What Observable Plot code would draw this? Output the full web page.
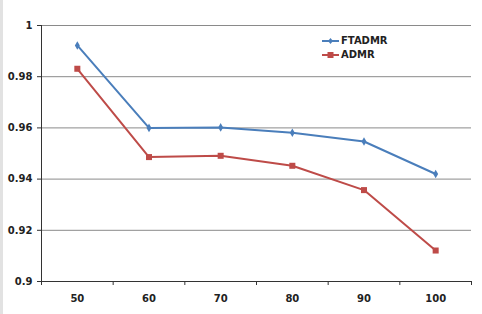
<!DOCTYPE html>
<html>
<head>
<meta charset="utf-8">
<script src="https://cdn.jsdelivr.net/npm/d3@7"></script>
<script src="https://cdn.jsdelivr.net/npm/@observablehq/plot@0.6"></script>
<style>
  html, body { margin: 0; padding: 0; background: #fff; }
  #wrap { position: relative; width: 482px; height: 314px; overflow: hidden; }
  #wrap::before { content: ""; position: absolute; left: 0; top: 0; bottom: 0; width: 3px; background: #e2e2e2; }
  .legend { position: absolute; left: 322px; top: 34px; font: bold 10px "DejaVu Sans", sans-serif; color: #222; line-height: 14px; }
  .legend div { display: flex; align-items: center; height: 14px; }
  .legend svg { margin-right: 2px; }
</style>
</head>
<body>
<div id="wrap"></div>
<script>
// x categories (sample size) and the two accuracy series
const categories = [50, 60, 70, 80, 90, 100];
const ftadmr = [0.9922, 0.9600, 0.9602, 0.9581, 0.9547, 0.9420];
const admr   = [0.9831, 0.9486, 0.9491, 0.9452, 0.9357, 0.9121];
const yTicks = [0.9, 0.92, 0.94, 0.96, 0.98, 1];
const xEdges = [45, 55, 65, 75, 85, 95, 105];

const blue = "#4a7ebb";
const red = "#be4b48";
const font = "\"DejaVu Sans\", sans-serif";

const rows = (name, vals) => categories.map((c, i) => ({series: name, x: c, y: vals[i]}));
const dataF = rows("FTADMR", ftadmr);
const dataA = rows("ADMR", admr);

const chart = Plot.plot({
  width: 482,
  height: 314,
  marginLeft: 41,
  marginRight: 11,
  marginTop: 25,
  marginBottom: 33,
  style: {fontFamily: font, fontSize: "10px", fontWeight: "bold", color: "#222", background: "transparent"},
  x: {type: "linear", domain: [xEdges[0], xEdges[xEdges.length - 1]]},
  y: {domain: [0.9, 1]},
  marks: [
    Plot.gridY(yTicks.filter(d => d > 0.9), {stroke: "#8a8a8a", strokeOpacity: 1, strokeWidth: 1}),
    Plot.axisY({ticks: yTicks, tickSize: 4, tickPadding: 5, tickFormat: d => String(+d.toFixed(2)), stroke: "#333", label: null, fill: "#222"}),
    Plot.axisX({ticks: xEdges, tickSize: 4, tickFormat: () => "", stroke: "#333", label: null}),
    Plot.axisX({ticks: categories, tickSize: 0, tickPadding: 13, tickFormat: d => String(d), label: null, fill: "#222"}),
    Plot.ruleX([xEdges[0]], {stroke: "#333"}),
    Plot.ruleY([0.9], {stroke: "#333"}),
    Plot.line(dataF, {x: "x", y: "y", stroke: blue, strokeWidth: 2}),
    Plot.dot(dataF, {x: "x", y: "y", symbol: "diamond", r: 2.6, fill: blue, stroke: "none"}),
    Plot.line(dataA, {x: "x", y: "y", stroke: red, strokeWidth: 2}),
    Plot.dot(dataA, {x: "x", y: "y", symbol: "square", r: 3.4, fill: red, stroke: "none"})
  ]
});

const wrap = document.getElementById("wrap");
wrap.appendChild(chart);

// legend inside the plot area
const legend = document.createElement("div");
legend.className = "legend";
const items = [
  {label: "FTADMR", color: blue, shape: "diamond"},
  {label: "ADMR", color: red, shape: "square"}
];
for (const it of items) {
  const row = document.createElement("div");
  const marker = it.shape === "diamond"
    ? `<path d="M8.5,4 L11,7 L8.5,10 L6,7 Z" fill="${it.color}"/>`
    : `<rect x="5.5" y="4" width="6" height="6" fill="${it.color}"/>`;
  row.innerHTML = `<svg width="17" height="14"><line x1="0" x2="17" y1="7" y2="7" stroke="${it.color}" stroke-width="2"/>${marker}</svg><span>${it.label}</span>`;
  legend.appendChild(row);
}
wrap.appendChild(legend);
</script>
</body>
</html>
